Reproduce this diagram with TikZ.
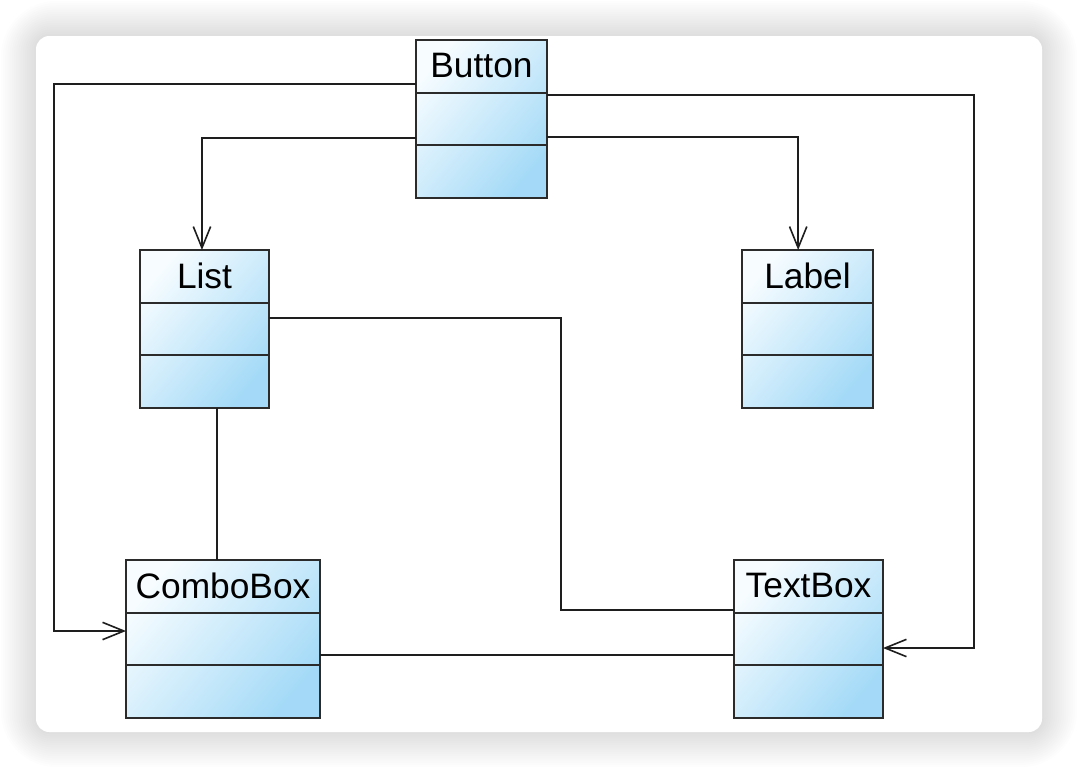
\documentclass[tikz,border=0pt]{standalone}
\usepackage{fontspec}
\setmainfont{Liberation Sans}
\usetikzlibrary{arrows.meta,positioning}
\definecolor{boxline}{HTML}{2B2B2B}
\definecolor{wireline}{HTML}{1E1E1E}
\definecolor{clslight}{HTML}{F6FCFF}
\definecolor{clsdark}{HTML}{A4DAF7}
\newcommand{\clsfont}{\fontsize{26.5}{31}\selectfont}
\tikzset{
  umldiagram/.style={x=0.75pt, y=0.75pt},
  % a class box, light at its top left, bluer to the bottom right
  clsbox/.style={draw=boxline, line width=1.5pt, rectangle, anchor=north west,
                 inner sep=0pt, outer sep=0pt, minimum height=118.5pt,
                 left color=clslight, right color=clsdark, shading angle=50},
  % the class name in the top compartment
  clsname/.style={font=\clsfont, inner sep=0pt},
  % the lines between compartments
  divider/.style={draw=boxline, line width=1.5pt},
  % a plain association
  assoc/.style={draw=wireline, line width=1.5pt},
  % a directed association, open barb at the far end
  dassoc/.style={assoc, -{Straight Barb[length=16pt,width=13pt,line width=1.2pt]}},
}
% name, left, top, width, class name
\newcommand{\cls}[5]{%
  \node[clsbox, minimum width=#4*0.75pt] (#1) at (#2,-#3) {};%
  \draw[divider] ([yshift=-39.75pt]#1.north west) -- ([yshift=-39.75pt]#1.north east);%
  \draw[divider] ([yshift=-79pt]#1.north west) -- ([yshift=-79pt]#1.north east);%
  \node[clsname] (#1-n) at ([yshift=-19.5pt]#1.north) {#5};%
}

\begin{document}
\begin{tikzpicture}[umldiagram]
  % page, shadow and card
  \useasboundingbox (0,0) rectangle (1078,-768);
  \fill[white] (0,0) rectangle (1078,-768);
  \foreach \i in {1,...,16}
    \fill[black, opacity=0.0095, rounded corners=10+\i*2]
      (36-\i*2.2,-36+\i*2.2) rectangle (1042+\i*2.2,-732-\i*2.2);
  \fill[white, rounded corners=10] (36,-36) rectangle (1042,-732);

  % classes
  \cls{btn}{416}{40}{131}{Button}
  \cls{lst}{140}{250}{129}{List}
  \cls{lbl}{742}{250}{131}{Label}
  \cls{cbx}{126}{560}{194}{ComboBox}
  \cls{txt}{734}{560}{149}{TextBox}

  % associations
  \draw[dassoc] ([yshift=-33pt]btn.north west) -- ++(-362,0)
                |- ([yshift=-53.25pt]cbx.north west);
  \draw[dassoc] ([yshift=-73.5pt]btn.north west) -| ([xshift=-1.9pt]lst.north);
  \draw[dassoc] ([yshift=-41.25pt]btn.north east) -- ++(427,0)
                |- ([yshift=-66pt]txt.north east);
  \draw[dassoc] ([yshift=-72.75pt]btn.north east) -| ([xshift=-7pt]lbl.north);
  \draw[assoc] ([yshift=-51pt]lst.north east) -- ++(292,0)
               |- ([yshift=-37.5pt]txt.north west);
  \coordinate (lstdown) at ([xshift=9.4pt]lst.south);
  \draw[assoc] (lstdown) -- (lstdown |- cbx.north);
  \draw[assoc] ([yshift=-71.25pt]cbx.north east) -- ([yshift=-71.25pt]txt.north west);
\end{tikzpicture}
\end{document}
